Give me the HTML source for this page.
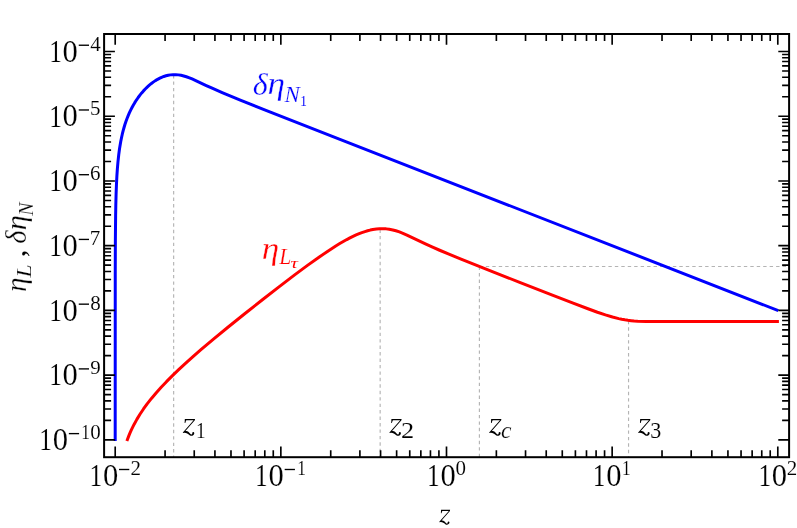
<!DOCTYPE html>
<html><head><meta charset="utf-8"><title>plot</title>
<style>
html,body{margin:0;padding:0;background:#fff;}
body{width:797px;height:528px;overflow:hidden;}
svg{display:block;will-change:transform;font-family:"Liberation Serif",serif;}
svg text{fill:#000;stroke:#fff;}
</style></head><body>
<svg width="797" height="528" viewBox="0 0 797 528">
<rect width="797" height="528" fill="#fff"/>
<line x1="173.65" y1="75.00" x2="173.65" y2="457.20" stroke="#b4b4b4" stroke-width="1.15" stroke-dasharray="3.4 3.05"/>
<line x1="380.15" y1="229.50" x2="380.15" y2="457.20" stroke="#b4b4b4" stroke-width="1.15" stroke-dasharray="3.4 3.05"/>
<line x1="479.40" y1="266.60" x2="479.40" y2="457.20" stroke="#b4b4b4" stroke-width="1.15" stroke-dasharray="3.4 3.05"/>
<line x1="628.55" y1="320.80" x2="628.55" y2="457.20" stroke="#b4b4b4" stroke-width="1.15" stroke-dasharray="3.4 3.05"/>
<line x1="479.40" y1="266.50" x2="789.10" y2="266.50" stroke="#b4b4b4" stroke-width="1.15" stroke-dasharray="3.4 3.05"/>
<path d="M115.20,440.98 L115.25,274.13 L115.37,240.26 L115.62,215.72 L115.83,204.02 L116.11,193.49 L116.47,184.12 L116.89,175.90 L117.36,168.86 L117.97,161.80 L118.73,154.73 L119.52,148.82 L120.70,141.72 L121.40,138.17 L122.27,134.21 L123.16,130.66 L124.04,127.48 L124.92,124.55 L125.93,121.53 L127.13,118.24 L128.19,115.59 L129.34,112.93 L130.67,110.11 L132.00,107.50 L133.39,104.97 L134.77,102.64 L136.42,100.05 L138.19,97.49 L139.95,95.12 L141.72,92.93 L143.49,90.90 L145.26,89.02 L147.47,86.85 L149.35,85.16 L151.45,83.44 L153.21,82.12 L155.42,80.62 L157.63,79.30 L159.84,78.14 L161.61,77.33 L163.82,76.47 L166.03,75.78 L168.24,75.25 L170.45,74.88 L173.11,74.66 L175.76,74.66 L178.41,74.88 L181.06,75.32 L183.71,75.94 L186.37,76.74 L189.46,77.86 L192.11,78.95 L195.21,80.32 L206.26,85.53 L211.56,87.96 L222.17,92.58 L240.29,100.06 L265.93,110.29 L339.31,139.07 L778.30,310.62" fill="none" stroke="#0000ff" stroke-width="3" stroke-linejoin="round"/>
<path d="M126.86,440.98 L128.90,435.60 L130.23,432.45 L131.48,429.67 L134.07,424.44 L136.86,419.37 L139.95,414.28 L143.49,408.97 L147.15,403.93 L151.45,398.44 L156.31,392.67 L161.17,387.25 L166.48,381.66 L172.22,375.89 L178.41,369.93 L185.48,363.39 L193.00,356.66 L200.95,349.73 L213.77,338.89 L227.92,327.25 L244.71,313.72 L262.40,299.74 L279.63,286.34 L294.66,274.89 L307.48,265.38 L318.97,257.17 L327.82,251.14 L335.77,246.01 L339.75,243.59 L343.29,241.53 L346.82,239.56 L349.92,237.94 L353.01,236.40 L356.11,234.98 L359.20,233.66 L361.85,232.64 L364.95,231.57 L367.60,230.77 L370.25,230.09 L372.90,229.54 L376.44,229.01 L379.53,228.74 L383.07,228.69 L386.16,228.87 L389.26,229.26 L392.79,229.95 L395.89,230.78 L399.42,231.94 L402.96,233.31 L406.94,235.04 L425.95,244.16 L432.58,247.17 L439.65,250.25 L448.93,254.15 L460.42,258.86 L490.48,270.86 L519.66,282.34 L552.37,295.12 L573.14,303.16 L587.29,308.52 L597.45,312.22 L605.41,314.92 L612.48,317.06 L618.67,318.62 L621.76,319.27 L624.86,319.83 L627.95,320.29 L631.05,320.65 L634.14,320.94 L637.68,321.17 L646.08,321.47 L663.31,321.57 L778.90,321.58" fill="none" stroke="#ff0000" stroke-width="3" stroke-linejoin="round"/>
<path d="M115.20,457.20v-10.80 M115.20,34.00v10.80 M165.07,457.20v-7.00 M165.07,34.00v7.00 M194.24,457.20v-7.00 M194.24,34.00v7.00 M214.93,457.20v-7.00 M214.93,34.00v7.00 M230.98,457.20v-7.00 M230.98,34.00v7.00 M244.10,457.20v-7.00 M244.10,34.00v7.00 M255.19,457.20v-7.00 M255.19,34.00v7.00 M264.80,457.20v-7.00 M264.80,34.00v7.00 M273.27,457.20v-7.00 M273.27,34.00v7.00 M280.85,457.20v-10.80 M280.85,34.00v10.80 M330.72,457.20v-7.00 M330.72,34.00v7.00 M359.89,457.20v-7.00 M359.89,34.00v7.00 M380.58,457.20v-7.00 M380.58,34.00v7.00 M396.63,457.20v-7.00 M396.63,34.00v7.00 M409.75,457.20v-7.00 M409.75,34.00v7.00 M420.84,457.20v-7.00 M420.84,34.00v7.00 M430.45,457.20v-7.00 M430.45,34.00v7.00 M438.92,457.20v-7.00 M438.92,34.00v7.00 M446.50,457.20v-10.80 M446.50,34.00v10.80 M496.37,457.20v-7.00 M496.37,34.00v7.00 M525.54,457.20v-7.00 M525.54,34.00v7.00 M546.23,457.20v-7.00 M546.23,34.00v7.00 M562.28,457.20v-7.00 M562.28,34.00v7.00 M575.40,457.20v-7.00 M575.40,34.00v7.00 M586.49,457.20v-7.00 M586.49,34.00v7.00 M596.10,457.20v-7.00 M596.10,34.00v7.00 M604.57,457.20v-7.00 M604.57,34.00v7.00 M612.15,457.20v-10.80 M612.15,34.00v10.80 M662.02,457.20v-7.00 M662.02,34.00v7.00 M691.19,457.20v-7.00 M691.19,34.00v7.00 M711.88,457.20v-7.00 M711.88,34.00v7.00 M727.93,457.20v-7.00 M727.93,34.00v7.00 M741.05,457.20v-7.00 M741.05,34.00v7.00 M752.14,457.20v-7.00 M752.14,34.00v7.00 M761.75,457.20v-7.00 M761.75,34.00v7.00 M770.22,457.20v-7.00 M770.22,34.00v7.00 M777.80,457.20v-10.80 M777.80,34.00v10.80 M104.10,439.88h10.80 M789.10,439.88h-10.80 M104.10,420.39h7.00 M789.10,420.39h-7.00 M104.10,409.00h7.00 M789.10,409.00h-7.00 M104.10,400.91h7.00 M789.10,400.91h-7.00 M104.10,394.64h7.00 M789.10,394.64h-7.00 M104.10,389.51h7.00 M789.10,389.51h-7.00 M104.10,385.18h7.00 M789.10,385.18h-7.00 M104.10,381.42h7.00 M789.10,381.42h-7.00 M104.10,378.11h7.00 M789.10,378.11h-7.00 M104.10,375.15h10.80 M789.10,375.15h-10.80 M104.10,355.66h7.00 M789.10,355.66h-7.00 M104.10,344.27h7.00 M789.10,344.27h-7.00 M104.10,336.18h7.00 M789.10,336.18h-7.00 M104.10,329.91h7.00 M789.10,329.91h-7.00 M104.10,324.78h7.00 M789.10,324.78h-7.00 M104.10,320.45h7.00 M789.10,320.45h-7.00 M104.10,316.69h7.00 M789.10,316.69h-7.00 M104.10,313.38h7.00 M789.10,313.38h-7.00 M104.10,310.42h10.80 M789.10,310.42h-10.80 M104.10,290.93h7.00 M789.10,290.93h-7.00 M104.10,279.54h7.00 M789.10,279.54h-7.00 M104.10,271.45h7.00 M789.10,271.45h-7.00 M104.10,265.18h7.00 M789.10,265.18h-7.00 M104.10,260.05h7.00 M789.10,260.05h-7.00 M104.10,255.72h7.00 M789.10,255.72h-7.00 M104.10,251.96h7.00 M789.10,251.96h-7.00 M104.10,248.65h7.00 M789.10,248.65h-7.00 M104.10,245.69h10.80 M789.10,245.69h-10.80 M104.10,226.20h7.00 M789.10,226.20h-7.00 M104.10,214.81h7.00 M789.10,214.81h-7.00 M104.10,206.72h7.00 M789.10,206.72h-7.00 M104.10,200.45h7.00 M789.10,200.45h-7.00 M104.10,195.32h7.00 M789.10,195.32h-7.00 M104.10,190.99h7.00 M789.10,190.99h-7.00 M104.10,187.23h7.00 M789.10,187.23h-7.00 M104.10,183.92h7.00 M789.10,183.92h-7.00 M104.10,180.96h10.80 M789.10,180.96h-10.80 M104.10,161.47h7.00 M789.10,161.47h-7.00 M104.10,150.08h7.00 M789.10,150.08h-7.00 M104.10,141.99h7.00 M789.10,141.99h-7.00 M104.10,135.72h7.00 M789.10,135.72h-7.00 M104.10,130.59h7.00 M789.10,130.59h-7.00 M104.10,126.26h7.00 M789.10,126.26h-7.00 M104.10,122.50h7.00 M789.10,122.50h-7.00 M104.10,119.19h7.00 M789.10,119.19h-7.00 M104.10,116.23h10.80 M789.10,116.23h-10.80 M104.10,96.74h7.00 M789.10,96.74h-7.00 M104.10,85.35h7.00 M789.10,85.35h-7.00 M104.10,77.26h7.00 M789.10,77.26h-7.00 M104.10,70.99h7.00 M789.10,70.99h-7.00 M104.10,65.86h7.00 M789.10,65.86h-7.00 M104.10,61.53h7.00 M789.10,61.53h-7.00 M104.10,57.77h7.00 M789.10,57.77h-7.00 M104.10,54.46h7.00 M789.10,54.46h-7.00 M104.10,51.50h10.80 M789.10,51.50h-10.80" stroke="#000" stroke-width="1.65" fill="none"/>
<rect x="104.10" y="34.00" width="685.00" height="423.20" fill="none" stroke="#000" stroke-width="2.00"/>
<text transform="translate(89.42,486.06) scale(0.8200,1)" font-size="30.98" stroke-width="0.12">1</text><text transform="translate(102.88,486.00) scale(0.9855,1)" font-size="31.04" stroke-width="0.12">0</text><rect x="119.03" y="468.82" width="10.25" height="1.35" fill="#000"/><text transform="translate(130.61,475.10) scale(1.0500,1)" font-size="20.00" stroke-width="0.10">2</text>
<text transform="translate(255.07,486.06) scale(0.8200,1)" font-size="30.98" stroke-width="0.12">1</text><text transform="translate(268.53,486.00) scale(0.9855,1)" font-size="31.04" stroke-width="0.12">0</text><rect x="284.68" y="468.82" width="10.25" height="1.35" fill="#000"/><text transform="translate(297.17,475.10) scale(0.8600,1)" font-size="20.08" stroke-width="0.10">1</text>
<text transform="translate(427.10,486.06) scale(0.8200,1)" font-size="30.98" stroke-width="0.12">1</text><text transform="translate(440.55,486.00) scale(0.9855,1)" font-size="31.04" stroke-width="0.12">0</text><text transform="translate(455.40,475.10) scale(1.0539,1)" font-size="19.93" stroke-width="0.10">0</text>
<text transform="translate(592.75,486.06) scale(0.8200,1)" font-size="30.98" stroke-width="0.12">1</text><text transform="translate(606.20,486.00) scale(0.9855,1)" font-size="31.04" stroke-width="0.12">0</text><text transform="translate(622.10,475.10) scale(0.8600,1)" font-size="20.08" stroke-width="0.10">1</text>
<text transform="translate(758.40,486.06) scale(0.8200,1)" font-size="30.98" stroke-width="0.12">1</text><text transform="translate(771.85,486.00) scale(0.9855,1)" font-size="31.04" stroke-width="0.12">0</text><text transform="translate(786.83,475.10) scale(1.0500,1)" font-size="20.00" stroke-width="0.10">2</text>
<text transform="translate(39.25,450.18) scale(0.8200,1)" font-size="30.98" stroke-width="0.12">1</text><text transform="translate(52.70,450.12) scale(0.9855,1)" font-size="31.04" stroke-width="0.12">0</text><rect x="68.85" y="432.94" width="10.25" height="1.35" fill="#000"/><text transform="translate(81.35,439.22) scale(0.8600,1)" font-size="20.08" stroke-width="0.10">1</text><text transform="translate(90.20,439.22) scale(1.0539,1)" font-size="19.93" stroke-width="0.10">0</text>
<text transform="translate(49.15,385.45) scale(0.8200,1)" font-size="30.98" stroke-width="0.12">1</text><text transform="translate(62.60,385.39) scale(0.9855,1)" font-size="31.04" stroke-width="0.12">0</text><rect x="78.75" y="368.22" width="10.25" height="1.35" fill="#000"/><text transform="translate(90.28,374.29) scale(1.0658,1)" font-size="19.70" stroke-width="0.10">9</text>
<text transform="translate(49.15,320.72) scale(0.8200,1)" font-size="30.98" stroke-width="0.12">1</text><text transform="translate(62.60,320.66) scale(0.9855,1)" font-size="31.04" stroke-width="0.12">0</text><rect x="78.75" y="303.49" width="10.25" height="1.35" fill="#000"/><text transform="translate(90.20,309.76) scale(1.0539,1)" font-size="19.93" stroke-width="0.10">8</text>
<text transform="translate(49.15,255.99) scale(0.8200,1)" font-size="30.98" stroke-width="0.12">1</text><text transform="translate(62.60,255.93) scale(0.9855,1)" font-size="31.04" stroke-width="0.12">0</text><rect x="78.75" y="238.75" width="10.25" height="1.35" fill="#000"/><text transform="translate(89.81,245.03) scale(1.0381,1)" font-size="20.23" stroke-width="0.10">7</text>
<text transform="translate(49.15,191.26) scale(0.8200,1)" font-size="30.98" stroke-width="0.12">1</text><text transform="translate(62.60,191.20) scale(0.9855,1)" font-size="31.04" stroke-width="0.12">0</text><rect x="78.75" y="174.03" width="10.25" height="1.35" fill="#000"/><text transform="translate(90.07,180.30) scale(1.0500,1)" font-size="20.00" stroke-width="0.10">6</text>
<text transform="translate(49.15,126.53) scale(0.8200,1)" font-size="30.98" stroke-width="0.12">1</text><text transform="translate(62.60,126.47) scale(0.9855,1)" font-size="31.04" stroke-width="0.12">0</text><rect x="78.75" y="109.30" width="10.25" height="1.35" fill="#000"/><text transform="translate(90.02,115.37) scale(1.0540,1)" font-size="19.92" stroke-width="0.10">5</text>
<text transform="translate(49.15,61.80) scale(0.8200,1)" font-size="30.98" stroke-width="0.12">1</text><text transform="translate(62.60,61.74) scale(0.9855,1)" font-size="31.04" stroke-width="0.12">0</text><rect x="78.75" y="44.56" width="10.25" height="1.35" fill="#000"/><text transform="translate(90.15,50.84) scale(1.0421,1)" font-size="20.15" stroke-width="0.10">4</text>
<path transform="translate(439.10,522.00) scale(0.04365) translate(-93,-380)" d="M138,100 L345,100 L341,126 L150,347 C185,332 220,362 248,402 C262,422 284,420 290,402 C284,384 294,364 312,366 C332,369 336,396 322,416 C304,446 264,450 236,430 C202,402 172,384 132,381 L96,386 L102,369 L316,129 L168,129 C160,146 154,162 148,182 L134,182 Z" fill="#000"/>
<g transform="rotate(-90)"><text transform="translate(-292.02,25.85) scale(0.9798,1)" font-size="29.89" stroke-width="0.30" font-style="italic">η</text><text transform="translate(-277.41,30.70) scale(1.1173,1)" font-size="21.07" stroke-width="0.20" font-style="italic">L</text><text transform="translate(-257.35,25.05) scale(1.0322,1)" font-size="29.71" stroke-width="0.12">,</text><text transform="translate(-243.85,26.30) scale(0.9633,1)" font-size="29.58" stroke-width="0.30" font-style="italic">δ</text><text transform="translate(-230.27,26.00) scale(1.0452,1)" font-size="29.16" stroke-width="0.30" font-style="italic">η</text><text transform="translate(-215.75,33.20) scale(0.9097,1)" font-size="21.83" stroke-width="0.20" font-style="italic">N</text></g>
<path transform="translate(182.60,432.70) scale(0.04926) translate(-93,-380)" d="M138,100 L345,100 L341,126 L150,347 C185,332 220,362 248,402 C262,422 284,420 290,402 C284,384 294,364 312,366 C332,369 336,396 322,416 C304,446 264,450 236,430 C202,402 172,384 132,381 L96,386 L102,369 L316,129 L168,129 C160,146 154,162 148,182 L134,182 Z" fill="#000"/>
<text transform="translate(195.88,437.65) scale(0.8600,1)" font-size="22.35" stroke-width="0.10">1</text>
<path transform="translate(389.20,432.70) scale(0.04926) translate(-93,-380)" d="M138,100 L345,100 L341,126 L150,347 C185,332 220,362 248,402 C262,422 284,420 290,402 C284,384 294,364 312,366 C332,369 336,396 322,416 C304,446 264,450 236,430 C202,402 172,384 132,381 L96,386 L102,369 L316,129 L168,129 C160,146 154,162 148,182 L134,182 Z" fill="#000"/>
<text transform="translate(400.98,437.65) scale(1.1516,1)" font-size="22.87" stroke-width="0.10">2</text>
<path transform="translate(488.95,432.70) scale(0.04926) translate(-93,-380)" d="M138,100 L345,100 L341,126 L150,347 C185,332 220,362 248,402 C262,422 284,420 290,402 C284,384 294,364 312,366 C332,369 336,396 322,416 C304,446 264,450 236,430 C202,402 172,384 132,381 L96,386 L102,369 L316,129 L168,129 C160,146 154,162 148,182 L134,182 Z" fill="#000"/>
<text transform="translate(501.09,438.18) scale(1.0688,1)" font-size="22.08" stroke-width="0.20" font-style="italic">c</text>
<path transform="translate(637.95,432.70) scale(0.04926) translate(-93,-380)" d="M138,100 L345,100 L341,126 L150,347 C185,332 220,362 248,402 C262,422 284,420 290,402 C284,384 294,364 312,366 C332,369 336,396 322,416 C304,446 264,450 236,430 C202,402 172,384 132,381 L96,386 L102,369 L316,129 L168,129 C160,146 154,162 148,182 L134,182 Z" fill="#000"/>
<text transform="translate(650.15,437.97) scale(0.9450,1)" font-size="23.35" stroke-width="0.10">3</text>
<text transform="translate(252.73,94.59) scale(1.0385,1)" font-size="30.99" stroke-width="0.30" font-style="italic" style="fill:#0000ff">δ</text>
<text transform="translate(267.57,94.48) scale(1.0982,1)" font-size="32.09" stroke-width="0.30" font-style="italic" style="fill:#0000ff">η</text>
<text transform="translate(284.57,102.10) scale(0.9935,1)" font-size="23.21" stroke-width="0.20" font-style="italic" style="fill:#0000ff">N</text>
<text transform="translate(300.19,105.50) scale(0.8600,1)" font-size="15.45" stroke-width="0.00" style="fill:#0000ff">1</text>
<text transform="translate(261.72,258.97) scale(1.1097,1)" font-size="31.65" stroke-width="0.30" font-style="italic" style="fill:#ff0000">η</text>
<text transform="translate(279.17,264.20) scale(0.9319,1)" font-size="23.21" stroke-width="0.20" font-style="italic" style="fill:#ff0000">L</text>
<text transform="translate(290.51,267.85) scale(1.3500,1)" font-size="15.32" stroke-width="0.00" font-style="italic" style="fill:#ff0000">τ</text>
</svg>
</body></html>
